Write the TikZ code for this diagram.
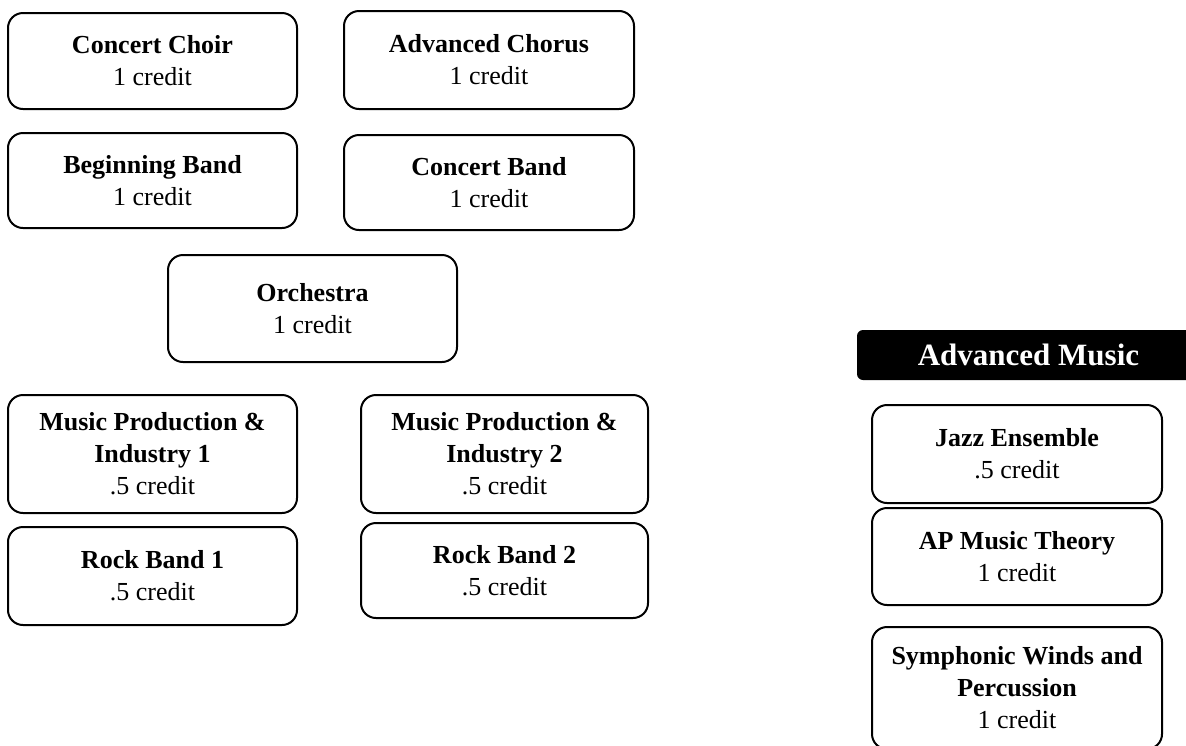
\documentclass[tikz,border=0pt]{standalone}
\usepackage{fontspec}
\setmainfont{Liberation Serif}

\begin{document}
\begin{tikzpicture}[x=0.5pt,y=-0.5pt,
    course/.style={draw, line width=1pt, rounded corners=7.5pt, fill=white,
      align=center, inner sep=0pt, minimum width=144.5pt,
      font=\fontsize{13}{16}\selectfont},
    banner/.style={fill=black, rounded corners=3pt, inner sep=0pt,
      minimum width=171.5pt, minimum height=25pt, text=white,
      font=\fontsize{15.5}{18}\selectfont\bfseries}]
	\useasboundingbox (0,0) rectangle (1186,745);

            % choir and band
            \node[course, minimum height=48pt] (choir) at (152.5,61) {\textbf{Concert Choir}\\1 credit};
            \node[course, minimum height=49pt, minimum width=145pt] (chorus) at (489,60) {\textbf{Advanced Chorus}\\1 credit};
            \node[course, minimum height=47.5pt] (begband) at (152.5,180.5) {\textbf{Beginning Band}\\1 credit};
            \node[course, minimum height=47.5pt, minimum width=145pt] (concband) at (489,182.5) {\textbf{Concert Band}\\1 credit};

            \node[course, minimum height=53.5pt] (orch) at (312.5,308.5) {\textbf{Orchestra}\\1 credit};

            % production and rock
            \node[course, minimum height=59pt] (mpi1) at (152.5,454) {\textbf{Music Production \&}\\\textbf{Industry 1}\\.5 credit};
            \node[course, minimum height=49pt] (rock1) at (152.5,576) {\textbf{Rock Band 1}\\.5 credit};
            \node[course, minimum height=59pt, minimum width=143.5pt] (mpi2) at (504.5,454) {\textbf{Music Production \&}\\\textbf{Industry 2}\\.5 credit};
            \node[course, minimum height=47.5pt, minimum width=143.5pt] (rock2) at (504.5,570.5) {\textbf{Rock Band 2}\\.5 credit};

            % advanced
            \node[banner] (advmusic) at (1028.5,355) {Advanced Music};
            \node[course, minimum height=49pt, minimum width=145pt] (jazz) at (1017,454) {\textbf{Jazz Ensemble}\\.5 credit};
            \node[course, minimum height=48.5pt, minimum width=145pt] (aptheory) at (1017,556.5) {\textbf{AP Music Theory}\\1 credit};
            \node[course, minimum height=61pt, minimum width=145pt] (winds) at (1017,688) {\textbf{Symphonic Winds and}\\\textbf{Percussion}\\1 credit};
        \end{tikzpicture}
\end{document}
